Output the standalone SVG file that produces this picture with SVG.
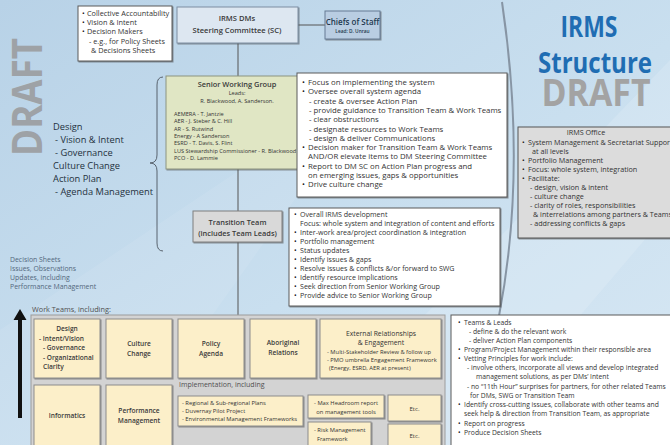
<svg xmlns="http://www.w3.org/2000/svg" width="670" height="445" viewBox="0 0 670 445">
  <defs>
    <linearGradient id="bg" x1="0" y1="0" x2="1" y2="1">
      <stop offset="0" stop-color="#b8d2e7"/>
      <stop offset="0.55" stop-color="#c9dfef"/>
      <stop offset="1" stop-color="#d8e8f4"/>
    </linearGradient>
    <filter id="sh" x="-5%" y="-5%" width="115%" height="120%">
      <feDropShadow dx="1" dy="1" stdDeviation="0.6" flood-color="#4a4a4a" flood-opacity="0.55"/>
    </filter>
    <style>
      text { font-family: "Open Sans", "Liberation Sans", sans-serif; fill: #333; }
      .box { stroke-width: 1; filter: url(#sh); }
      .white { fill: #ffffff; stroke: #5a5a5a; }
      .sc { fill: #dde7f1; stroke: #7d8ea2; }
      .cos { fill: #b9cde2; stroke: #667b93; }
      .swg { fill: #e0e6c4; stroke: #8c9380; }
      .grey { fill: #d9d9d9; stroke: #7f7f7f; }
      .office { fill: #dcdcdc; stroke: #555; }
      .wt { fill: #fcefc9; stroke: #8c8c8c; }
      .panel { fill: #d3d3d3; stroke: #9c9c9c; }
      .title { font-weight: 600; fill: #3a3a3a; }
      .ctr { text-anchor: middle; }
      .dot { fill: #1a1a1a; }
      .conn { fill: none; stroke: #555; stroke-width: 1; }
      .draft { font-weight: 700; fill: #9ea2a6; }
    </style>
  </defs>

  <!-- background -->
  <rect x="0" y="0" width="670" height="445" fill="url(#bg)"/>
  <path d="M300,445 L470,445 L670,210 L670,60 Z" fill="#ffffff" opacity="0.14"/>
  <path d="M0,330 L0,445 L120,445 L330,150 L300,130 Z" fill="#ffffff" opacity="0.08"/>

  <!-- DRAFT watermark (left) -->
  <text class="draft" transform="translate(42,97) rotate(-90)" text-anchor="middle" font-size="42" textLength="118" lengthAdjust="spacingAndGlyphs">DRAFT</text>

  <!-- heading -->
  <g id="heading">
    <text x="589" y="37" class="ctr" font-size="28" font-weight="700" style="fill:#1f6db3" textLength="57" lengthAdjust="spacingAndGlyphs">IRMS</text>
    <text x="595" y="73" class="ctr" font-size="28" font-weight="700" style="fill:#1f6db3" textLength="114" lengthAdjust="spacingAndGlyphs">Structure</text>
    <text x="596" y="106" class="ctr" font-size="38" font-weight="700" style="fill:#a3a3a3" textLength="109" lengthAdjust="spacingAndGlyphs">DRAFT</text>
  </g>

  <!-- connectors -->
  <g id="connectors">
    <line class="conn" x1="298" y1="25" x2="325" y2="25"/>
    <line class="conn" x1="238" y1="43" x2="238" y2="315"/>
    <path d="M502,2 Q527,170 499,316" fill="none" stroke="#8795a4" stroke-width="2"/>
    <path d="M163,77 Q157,77 157,85 L157,155 Q157,163 150,163 Q157,163 157,171 L157,243 Q157,251 163,251" fill="none" stroke="#4d5660" stroke-width="0.9"/>
    <path d="M20,309 L26.5,320 L22,320 L22,418 L18,418 L18,320 L13.5,320 Z" fill="#111"/>
  </g>

  <!-- roles of the DMs -->
  <g id="dm-roles">
    <rect class="box white" x="78" y="6" width="94" height="55"/>
    <text font-size="7.3">
      <tspan class="dot" x="82" y="16">•</tspan><tspan x="87">Collective Accountability</tspan>
      <tspan class="dot" x="82" y="25">•</tspan><tspan x="87">Vision &amp; Intent</tspan>
      <tspan class="dot" x="82" y="34">•</tspan><tspan x="87">Decision Makers</tspan>
      <tspan x="89" y="44">- e.g., for Policy Sheets</tspan>
      <tspan x="91" y="53">&amp; Decisions Sheets</tspan>
    </text>
  </g>

  <!-- steering committee -->
  <g id="steering-committee">
    <rect class="box sc" x="177" y="7" width="121" height="36"/>
    <text class="title ctr" x="237" y="21" font-size="7.6">IRMS DMs</text>
    <text class="title ctr" x="237" y="33" font-size="7.6">Steering Committee (SC)</text>
  </g>

  <!-- chiefs of staff -->
  <g id="chiefs-of-staff">
    <rect class="box cos" x="325" y="11" width="55" height="28"/>
    <text class="ctr" x="352.5" y="25" font-size="8" font-weight="600" style="fill:#22384f">Chiefs of Staff</text>
    <text class="ctr" x="352.5" y="33" font-size="4.8" font-weight="600" style="fill:#22384f">Lead: D. Unrau</text>
  </g>

  <!-- senior working group -->
  <g id="senior-working-group">
    <rect class="box swg" x="166" y="76" width="132" height="93"/>
    <text class="title ctr" x="237" y="87" font-size="7.4">Senior Working Group</text>
    <text class="ctr" x="237" y="95" font-size="5.6">Leads:</text>
    <text class="ctr" x="237" y="103" font-size="5.6">R. Blackwood, A. Sanderson.</text>
    <text font-size="5.6">
      <tspan x="174" y="116">AEMERA - T. Jantzie</tspan>
      <tspan x="174" y="123.3">AER - J. Steber &amp; C. Hill</tspan>
      <tspan x="174" y="130.6">AR - S. Rutwind</tspan>
      <tspan x="174" y="137.9">Energy - A Sanderson</tspan>
      <tspan x="174" y="145.2">ESRD - T. Davis, S. Flint</tspan>
      <tspan x="174" y="152.5">LUS Stewardship Commissioner - R. Blackwood</tspan>
      <tspan x="174" y="159.8">PCO - D. Lammie</tspan>
    </text>
  </g>

  <!-- senior working group responsibilities -->
  <g id="swg-roles">
    <rect class="box white" x="297" y="73" width="210" height="124"/>
    <text font-size="7.8">
      <tspan class="dot" x="302" y="85">•</tspan><tspan x="308">Focus on implementing the system</tspan>
      <tspan class="dot" x="302" y="94.3">•</tspan><tspan x="308">Oversee overall system agenda</tspan>
      <tspan x="309" y="103.6">- create &amp; oversee Action Plan</tspan>
      <tspan x="309" y="112.9">- provide guidance to Transition Team &amp; Work Teams</tspan>
      <tspan x="309" y="122.2">- clear obstructions</tspan>
      <tspan x="309" y="131.5">- designate resources to Work Teams</tspan>
      <tspan x="309" y="140.8">- design &amp; deliver Communications</tspan>
      <tspan class="dot" x="302" y="150.1">•</tspan><tspan x="308">Decision maker for Transition Team &amp; Work Teams</tspan>
      <tspan x="308" y="159.4">AND/OR elevate items to DM Steering Committee</tspan>
      <tspan class="dot" x="302" y="168.7">•</tspan><tspan x="308">Report to DM SC on Action Plan progress and</tspan>
      <tspan x="308" y="178">on emerging issues, gaps &amp; opportunities</tspan>
      <tspan class="dot" x="302" y="187.3">•</tspan><tspan x="308">Drive culture change</tspan>
    </text>
  </g>

  <!-- IRMS office -->
  <g id="irms-office">
    <rect class="box office" x="518" y="127" width="160" height="111"/>
    <text class="ctr" x="586" y="135" font-size="7.2">IRMS Office</text>
    <text font-size="7.2">
      <tspan class="dot" x="522" y="144.5">•</tspan><tspan x="528">System Management &amp; Secretariat Support</tspan>
      <tspan x="532" y="153.5">at all levels</tspan>
      <tspan class="dot" x="522" y="162.5">•</tspan><tspan x="528">Portfolio Management</tspan>
      <tspan class="dot" x="522" y="171.5">•</tspan><tspan x="528">Focus: whole system, integration</tspan>
      <tspan class="dot" x="522" y="180.5">•</tspan><tspan x="528">Facilitate:</tspan>
      <tspan x="530" y="189.5">- design, vision &amp; intent</tspan>
      <tspan x="530" y="198.5">- culture change</tspan>
      <tspan x="530" y="207.5">- clarity of roles, responsibilities</tspan>
      <tspan x="533" y="216.5">&amp; interrelations among partners &amp; Teams</tspan>
      <tspan x="530" y="225.5">- addressing conflicts &amp; gaps</tspan>
    </text>
  </g>

  <!-- focus areas listed left of the brace -->
  <g id="focus-areas">
    <text font-size="9.3" style="fill:#24313d">
      <tspan x="53" y="130">Design</tspan>
      <tspan x="55" y="143">- Vision &amp; Intent</tspan>
      <tspan x="55" y="156">- Governance</tspan>
      <tspan x="53" y="169">Culture Change</tspan>
      <tspan x="53" y="182">Action Plan</tspan>
      <tspan x="55" y="195">- Agenda Management</tspan>
    </text>
  </g>

  <!-- reporting flow -->
  <g id="reporting">
    <text font-size="6.9" style="fill:#53687c">
      <tspan x="10" y="262">Decision Sheets</tspan>
      <tspan x="10" y="271">Issues, Observations</tspan>
      <tspan x="10" y="280">Updates, including</tspan>
      <tspan x="10" y="289">Performance Management</tspan>
    </text>
  </g>

  <!-- transition team -->
  <g id="transition-team">
    <rect class="box grey" x="193" y="211" width="89" height="31"/>
    <text class="title ctr" x="237.5" y="225" font-size="7.4">Transition Team</text>
    <text class="title ctr" x="237.5" y="236" font-size="7.4">(includes Team Leads)</text>
  </g>

  <!-- transition team responsibilities -->
  <g id="tt-roles">
    <rect class="box white" x="289" y="208" width="211" height="98"/>
    <text font-size="7.1">
      <tspan class="dot" x="294" y="216.5">•</tspan><tspan x="300">Overall IRMS development</tspan>
      <tspan x="300" y="225.5">Focus: whole system and integration of content and efforts</tspan>
      <tspan class="dot" x="294" y="234.5">•</tspan><tspan x="300">Inter-work area/project coordination &amp; integration</tspan>
      <tspan class="dot" x="294" y="243.5">•</tspan><tspan x="300">Portfolio management</tspan>
      <tspan class="dot" x="294" y="252.5">•</tspan><tspan x="300">Status updates</tspan>
      <tspan class="dot" x="294" y="261.5">•</tspan><tspan x="300">Identify issues &amp; gaps</tspan>
      <tspan class="dot" x="294" y="270.5">•</tspan><tspan x="300">Resolve issues &amp; conflicts &amp;/or forward to SWG</tspan>
      <tspan class="dot" x="294" y="279.5">•</tspan><tspan x="300">Identify resource implications</tspan>
      <tspan class="dot" x="294" y="288.5">•</tspan><tspan x="300">Seek direction from Senior Working Group</tspan>
      <tspan class="dot" x="294" y="297.5">•</tspan><tspan x="300">Provide advice to Senior Working Group</tspan>
    </text>
  </g>

  <!-- work teams -->
  <g id="work-teams">
    <text x="32" y="312" font-size="7.3" style="fill:#505050">Work Teams, including:</text>
    <rect class="panel" x="31" y="315" width="414" height="135"/>
    <text x="179" y="387" font-size="7" style="fill:#505050">Implementation, including</text>
  </g>

  <g id="wt-design">
    <rect class="box wt" x="34" y="319" width="66" height="59"/>
    <text class="title ctr" x="67" y="331" font-size="6.6">Design</text>
    <text class="title" font-size="6.6">
      <tspan x="39" y="340.5">- Intent/Vision</tspan>
      <tspan x="43" y="350">- Governance</tspan>
      <tspan x="43" y="359.5">- Organizational</tspan>
      <tspan x="43" y="369">Clarity</tspan>
    </text>
  </g>
  <g id="wt-culture">
    <rect class="box wt" x="106" y="319" width="66" height="59"/>
    <text class="title ctr" x="139" y="346" font-size="6.6">Culture</text>
    <text class="title ctr" x="139" y="355.5" font-size="6.6">Change</text>
  </g>
  <g id="wt-policy">
    <rect class="box wt" x="178" y="319" width="66" height="59"/>
    <text class="title ctr" x="211" y="346" font-size="6.6">Policy</text>
    <text class="title ctr" x="211" y="355.5" font-size="6.6">Agenda</text>
  </g>
  <g id="wt-aboriginal">
    <rect class="box wt" x="250" y="319" width="66" height="59"/>
    <text class="title ctr" x="283" y="345" font-size="6.6">Aboriginal</text>
    <text class="title ctr" x="283" y="354.5" font-size="6.6">Relations</text>
  </g>
  <g id="wt-external">
    <rect class="box wt" x="320" y="319" width="121" height="59"/>
    <text class="ctr" x="381" y="336" font-size="6.8">External Relationships</text>
    <text class="ctr" x="381" y="345" font-size="6.8">&amp; Engagement</text>
    <text font-size="5.8">
      <tspan x="327" y="353.5">- Multi-Stakeholder Review &amp; follow up</tspan>
      <tspan x="327" y="361.5">- PMO umbrella Engagement Framework</tspan>
      <tspan x="329" y="369.5">(Energy, ESRD, AER at present)</tspan>
    </text>
  </g>
  <g id="wt-informatics">
    <rect class="box wt" x="34" y="385" width="66" height="65"/>
    <text class="title ctr" x="67" y="418" font-size="6.6">Informatics</text>
  </g>
  <g id="wt-performance">
    <rect class="box wt" x="106" y="385" width="66" height="65"/>
    <text class="title ctr" x="139" y="413" font-size="6.6">Performance</text>
    <text class="title ctr" x="139" y="422.5" font-size="6.6">Management</text>
  </g>
  <g id="wt-regional">
    <rect class="box wt" x="178" y="396" width="125" height="30"/>
    <text font-size="5.8">
      <tspan x="182" y="405">- Regional &amp; Sub-regional Plans</tspan>
      <tspan x="182" y="413">- Duvernay Pilot Project</tspan>
      <tspan x="182" y="421">- Environmental Management Frameworks</tspan>
    </text>
  </g>
  <g id="wt-headroom">
    <rect class="box wt" x="308" y="395" width="76" height="23"/>
    <text class="ctr" x="346" y="405" font-size="5.8">- Max Headroom report</text>
    <text class="ctr" x="346" y="413.5" font-size="5.8">on management tools</text>
  </g>
  <g id="wt-risk">
    <rect class="box wt" x="308" y="422" width="63" height="28"/>
    <text font-size="5.8">
      <tspan x="314" y="432">- Risk Management</tspan>
      <tspan x="317" y="440.5">Framework</tspan>
    </text>
  </g>
  <g id="wt-etc-1">
    <rect class="box wt" x="388" y="395" width="53" height="26"/>
    <text class="ctr" x="414.5" y="410.5" font-size="6">Etc.</text>
  </g>
  <g id="wt-etc-2">
    <rect class="box wt" x="388" y="424" width="53" height="26"/>
    <text class="ctr" x="414.5" y="437.5" font-size="6">Etc.</text>
  </g>

  <!-- work team responsibilities -->
  <g id="wt-roles">
    <rect class="box white" x="451" y="315" width="225" height="135"/>
    <text font-size="6.75">
      <tspan class="dot" x="458" y="324.5">•</tspan><tspan x="464">Teams &amp; Leads</tspan>
      <tspan x="469" y="333.5">- define &amp; do the relevant work</tspan>
      <tspan x="469" y="342.5">- deliver Action Plan components</tspan>
      <tspan class="dot" x="458" y="351.5">•</tspan><tspan x="464">Program/Project Management within their responsible area</tspan>
      <tspan class="dot" x="458" y="360.5">•</tspan><tspan x="464">Vetting Principles for work include:</tspan>
      <tspan x="467" y="370">- involve others, incorporate all views and develop integrated</tspan>
      <tspan x="476" y="379">management solutions, as per DMs’ Intent</tspan>
      <tspan x="467" y="388.5">- no “11th Hour” surprises for partners, for other related Teams</tspan>
      <tspan x="470" y="397.5">for DMs, SWG or Transition Team</tspan>
      <tspan class="dot" x="458" y="407">•</tspan><tspan x="464">Identify cross-cutting issues, collaborate with other teams and</tspan>
      <tspan x="464" y="416">seek help &amp; direction from Transition Team, as appropriate</tspan>
      <tspan class="dot" x="458" y="425.5">•</tspan><tspan x="464">Report on progress</tspan>
      <tspan class="dot" x="458" y="434.5">•</tspan><tspan x="464">Produce Decision Sheets</tspan>
    </text>
  </g>
</svg>
